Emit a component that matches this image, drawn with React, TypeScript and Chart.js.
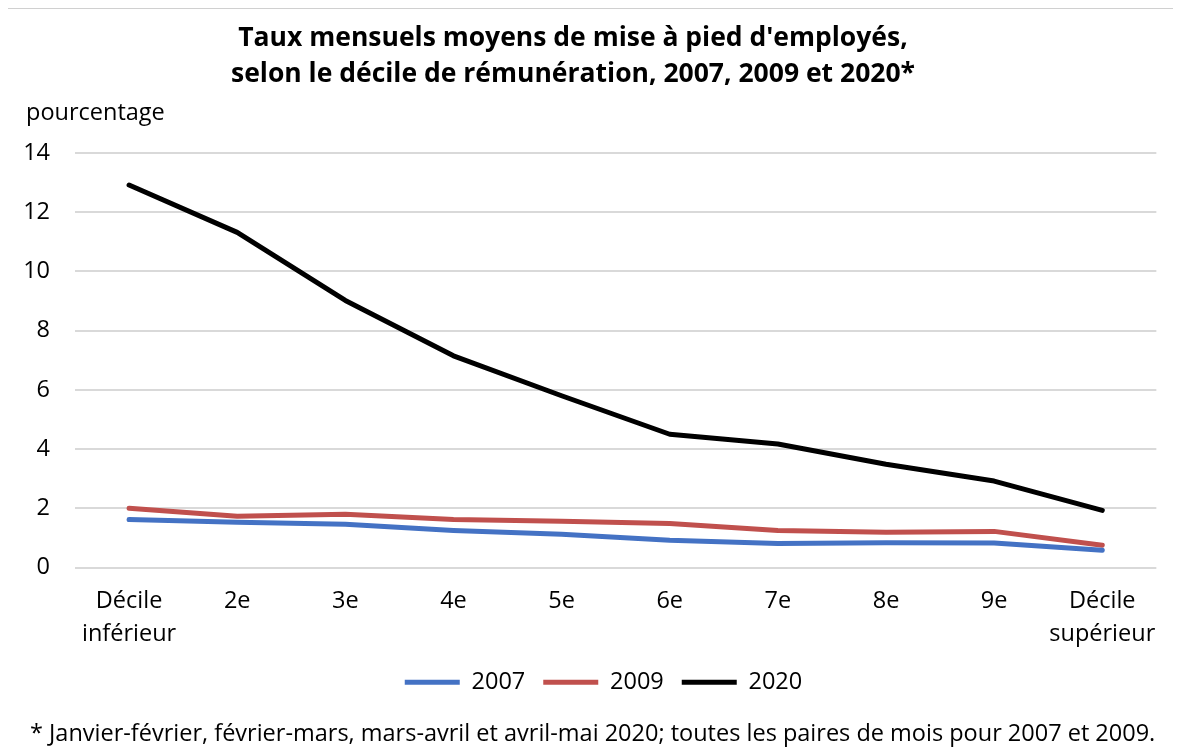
import React, { useEffect, useRef } from "react";
import { Chart, registerables } from "chart.js";

Chart.register(...registerables);

const categories: (string | string[])[] = [
  ["Décile", "inférieur"], "2e", "3e", "4e", "5e", "6e", "7e", "8e", "9e", ["Décile", "supérieur"],
];
const series2007 = [1.62, 1.53, 1.46, 1.25, 1.12, 0.92, 0.81, 0.84, 0.83, 0.58];
const series2009 = [2.0, 1.73, 1.8, 1.62, 1.56, 1.49, 1.25, 1.19, 1.22, 0.75];
const series2020 = [12.92, 11.32, 9.02, 7.15, 5.8, 4.5, 4.17, 3.49, 2.92, 1.93];
const seriesLabels = ["2007", "2009", "2020"];
const seriesColors = ["#4472C4", "#C0504D", "#000000"];
const yMin = 0;
const yMax = 14;
const yStep = 2;

const titleLines = [
  "Taux mensuels moyens de mise à pied d'employés,",
  "selon le décile de rémunération, 2007, 2009 et 2020*",
];
const yAxisTitle = "pourcentage";
const footnote =
  "* Janvier-février, février-mars, mars-avril et avril-mai 2020; toutes les paires de mois pour 2007 et 2009.";

const FONT = "'Open Sans', Lato, sans-serif";
const FS = 23.5;

const legendShift = {
  id: "legendShift",
  afterLayout(chart: any) {
    if (chart.legend) {
      chart.legend.left += 21;
      chart.legend.right += 21;
    }
  },
};

export default function App() {
  const ref = useRef<HTMLCanvasElement | null>(null);

  useEffect(() => {
    if (!ref.current) return;
    const data = [series2007, series2009, series2020];
    const chart = new Chart(ref.current, {
      type: "line",
      data: {
        labels: categories,
        datasets: data.map((d, i) => ({
          label: seriesLabels[i],
          data: d,
          borderColor: seriesColors[i],
          backgroundColor: seriesColors[i],
          borderWidth: 5,
          pointRadius: 0,
          pointHoverRadius: 0,
          tension: 0,
          fill: false,
          borderCapStyle: "round" as const,
          borderJoinStyle: "round" as const,
          pointStyle: "line" as const,
        })),
      },
      plugins: [legendShift],
      options: {
        responsive: false,
        animation: false,
        layout: { padding: { top: 144, left: 0, right: 15, bottom: 49 } },
        plugins: {
          title: { display: false },
          tooltip: { enabled: false },
          legend: {
            position: "bottom",
            labels: {
              usePointStyle: true,
              pointStyle: "line",
              pointStyleWidth: 55,
              padding: 18,
              color: "#000",
              font: { family: FONT, size: FS },
            },
          },
        },
        scales: {
          x: {
            offset: true,
            grid: { display: false, drawTicks: false },
            border: { display: false },
            ticks: {
              color: "#000",
              padding: 17,
              maxRotation: 0,
              autoSkip: false,
              font: { family: FONT, size: FS, lineHeight: 1.4 },
            },
            afterFit: (s: any) => {
              s.height = 85;
            },
          },
          y: {
            min: yMin,
            max: yMax,
            grid: { color: "#d9d9d9", lineWidth: 2, drawTicks: false },
            border: { display: false },
            ticks: {
              stepSize: yStep,
              color: "#000",
              padding: 25,
              font: { family: FONT, size: FS },
            },
            afterFit: (s: any) => {
              s.width = 68;
            },
          },
        },
      },
    });
    return () => chart.destroy();
  }, []);

  return (
    <div
      style={{
        position: "relative",
        width: 1169,
        height: 748,
        marginLeft: -2,
        border: "1.5px solid #d0d0d0",
        boxSizing: "border-box",
        fontFamily: FONT,
        color: "#000",
      }}
    >
      <canvas
        ref={ref}
        width={1166}
        height={744}
        style={{ position: "absolute", left: 0, top: 0, width: 1166, height: 744 }}
      />
      <div
        style={{
          position: "absolute",
          left: 166,
          top: 9,
          width: 800,
          textAlign: "center",
          fontWeight: 700,
          fontSize: 26.5,
          lineHeight: "36px",
        }}
      >
        {titleLines.map((t, i) => (
          <div key={i}>{t}</div>
        ))}
      </div>
      <div
        style={{
          position: "absolute",
          left: 19,
          top: 87,
          fontSize: FS,
          lineHeight: "30px",
          whiteSpace: "nowrap",
        }}
      >
        {yAxisTitle}
      </div>
      <div
        style={{
          position: "absolute",
          left: 23,
          top: 708,
          fontSize: FS,
          lineHeight: "30px",
          whiteSpace: "nowrap",
        }}
      >
        {footnote}
      </div>
    </div>
  );
}
